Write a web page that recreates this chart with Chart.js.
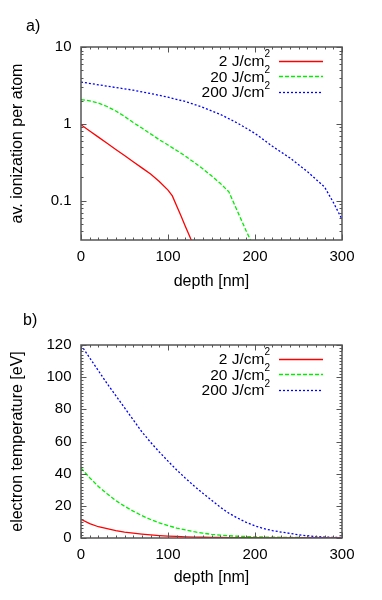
<!DOCTYPE html>
<html><head><meta charset="utf-8">
<script src="https://cdn.jsdelivr.net/npm/chart.js@4.4.1/dist/chart.umd.min.js"></script>
<style>
html,body{margin:0;padding:0;background:#fff;}
#wrap{position:relative;width:382px;height:600px;overflow:hidden;}
.box{position:absolute;left:0;width:382px;height:300px;}
</style></head><body>
<div id="wrap">
<div class="box" style="top:0px"><canvas id="c1" width="382" height="300"></canvas></div>
<div class="box" style="top:298px"><canvas id="c2" width="382" height="300"></canvas></div>
</div>
<script>
// ---------- data ----------
const seriesLabels = ['2 J/cm²', '20 J/cm²', '200 J/cm²'];
const seriesColors = ['#ff0000', '#00ee00', '#0000ff'];

// a) average ionization per atom vs depth [nm]
const ionDepthRed   = [0,10,20,30,40,50,60,70,80,90,100,105,110,115,120,125,130];
const ionRed        = [0.97,0.807,0.671,0.558,0.464,0.386,0.321,0.267,0.222,0.177,0.137,0.115,0.085,0.063,0.046,0.034,0.025];
const ionDepthGreen = [0,10,20,30,40,50,60,70,80,90,100,110,120,130,140,150,160,170,180,190,200];
const ionGreen      = [2.07,1.99,1.86,1.68,1.47,1.25,1.04,0.88,0.74,0.62,0.53,0.45,0.38,0.315,0.26,0.21,0.168,0.13,0.072,0.040,0.023];
const ionDepthBlue  = [0,20,40,60,80,100,120,140,160,180,200,220,240,260,280,290,300];
const ionBlue       = [3.5,3.22,2.97,2.74,2.48,2.22,1.95,1.64,1.33,1.02,0.75,0.51,0.36,0.24,0.15,0.095,0.057];

// b) electron temperature [eV] vs depth [nm]
const tempDepth = [0,10,20,30,40,50,60,70,80,90,100,110,120,130,140,150,160,170,180,190,200,210,220,230,240,250,260,270,280,290,300];
const tempRed   = [11.6,8.9,7.0,5.8,4.6,3.7,3.0,2.4,1.9,1.5,1.2,0.95,0.75,0.6,0.48,0.38,0.3,0.25,0.2,0.17,0.15,0.13,0.11,0.1,0.09,0.08,0.07,0.065,0.06,0.055,0.05];
const tempGreen = [43.5,37.5,32,27.5,23.3,19.8,16.7,13.9,11.5,9.4,7.7,6.2,5.0,3.9,3.0,2.3,1.8,1.4,1.1,0.9,0.7,0.6,0.5,0.42,0.35,0.3,0.25,0.21,0.18,0.15,0.12];
const tempBlue  = [120,112,104,96,88.5,81,73.5,66,59.5,53.5,47.8,42.3,37.2,32.4,27.8,23.5,19.2,15.4,12.4,9.7,7.5,5.9,4.6,3.7,2.9,2.0,1.4,0.9,0.6,0.4,0.3];

// tick labels
const xTickValues = [0,100,200,300];
const xTickLabels = ['0','100','200','300'];
const ionTickValues = [0.1,1,10];
const ionTickLabels = ['0.1','1','10'];
const tempTickValues = [0,20,40,60,80,100,120];
const tempTickLabels = ['0','20','40','60','80','100','120'];

// ---------- rendering ----------
const FONT = '"Liberation Sans", Arial, Helvetica, sans-serif';
Chart.defaults.font.family = FONT;
Chart.defaults.color = '#000';

const dashes = [[], [4,2], [2,2]];

function pts(xs, ys){ return xs.map((x,i)=>({x:x, y:ys[i]})); }

const framePlugin = {
  id: 'frame',
  afterDatasetsDraw(chart, args, o) {
    const {ctx, chartArea: a} = chart;
    const xs = chart.scales.x, ys = chart.scales.y;
    ctx.save();
    ctx.strokeStyle = '#555';
    ctx.lineWidth = 1;
    ctx.beginPath();
    const vx = (v, len) => { const p = Math.round(xs.getPixelForValue(v)) + 0.5;
      ctx.moveTo(p, a.bottom); ctx.lineTo(p, a.bottom - len);
      ctx.moveTo(p, a.top); ctx.lineTo(p, a.top + len); };
    const vy = (v, len) => { const p = Math.round(ys.getPixelForValue(v)) + 0.5;
      ctx.moveTo(a.left, p); ctx.lineTo(a.left + len, p);
      ctx.moveTo(a.right, p); ctx.lineTo(a.right - len, p); };
    xs.ticks.forEach(t => vx(t.value, 5.5));
    ys.ticks.forEach(t => vy(t.value, 5.5));
    o.xMinor.forEach(v => vx(v, 2.5));
    o.yMinor.forEach(v => vy(v, 2.5));
    ctx.stroke();
    ctx.lineWidth = 1.5;
    ctx.strokeRect(a.left, a.top, a.right - a.left, a.bottom - a.top);
    // panel label
    ctx.fillStyle = '#000';
    ctx.font = '16px ' + FONT;
    ctx.textAlign = 'left';
    ctx.textBaseline = 'alphabetic';
    ctx.fillText(o.panel, o.panelX, o.panelY);
    // legend
    chart.data.datasets.forEach((ds, i) => {
      const y = a.top + 13.5 + i * 15.7;
      const parts = ds.label.split('²');
      ctx.font = '10px ' + FONT;
      const supW = ctx.measureText('2').width;
      const xEnd = a.right - 72;
      ctx.textAlign = 'right';
      ctx.fillText('2', xEnd, y - 3.4);
      ctx.font = '15.5px ' + FONT;
      ctx.fillText(parts[0], xEnd - supW, y + 5.5);
      ctx.beginPath();
      ctx.strokeStyle = ds.borderColor;
      ctx.lineWidth = ds.borderWidth;
      ctx.setLineDash(ds.borderDash || []);
      ctx.moveTo(a.right - 63, Math.round(y) + 0.5);
      ctx.lineTo(a.right - 19, Math.round(y) + 0.5);
      ctx.stroke();
      ctx.setLineDash([]);
    });
    ctx.restore();
  }
};

function makeChart(id, cfg) {
  const datasets = cfg.series.map((s, i) => ({
    label: seriesLabels[i],
    data: pts(s[0], s[1]),
    borderColor: seriesColors[i],
    borderWidth: 1.3,
    borderDash: dashes[i],
    pointRadius: 0,
    tension: 0,
    fill: false,
    clip: 0
  }));
  return new Chart(document.getElementById(id), {
    type: 'line',
    data: { datasets },
    plugins: [framePlugin],
    options: {
      responsive: false,
      animation: false,
      events: [],
      layout: { padding: { top: 47, right: 40, left: 0, bottom: 0 } },
      plugins: {
        legend: { display: false },
        tooltip: { enabled: false },
        frame: { xMinor: cfg.xMinor, yMinor: cfg.yMinor, panel: cfg.panel, panelX: cfg.panelX, panelY: cfg.panelY }
      },
      scales: {
        x: {
          type: 'linear', min: 0, max: 300,
          grid: { display: false, drawTicks: false },
          border: { display: false },
          afterBuildTicks: s => { s.ticks = xTickValues.map(v => ({ value: v })); },
          afterFit: s => { s.height = 60; },
          ticks: { padding: 8, font: { size: 15 }, maxRotation: 0,
                   callback: v => xTickLabels[xTickValues.indexOf(v)] },
          title: { display: true, text: 'depth [nm]', font: { size: 16 }, padding: { top: 0, bottom: cfg.xTitlePad } }
        },
        y: {
          type: cfg.yType, min: cfg.yMin, max: cfg.yMax,
          grid: { display: false, drawTicks: false },
          border: { display: false },
          afterBuildTicks: s => { s.ticks = cfg.yTicks.map(v => ({ value: v })); },
          afterFit: s => { s.width = 81; },
          ticks: { padding: 9.5, font: { size: 15 },
                   callback: v => cfg.yLabels[cfg.yTicks.indexOf(v)] },
          title: { display: true, text: cfg.yTitle, font: { size: 16 }, padding: { top: 8.4, bottom: 0 } }
        }
      }
    }
  });
}

const xMinor = [];
for (let v = 10; v < 300; v += 10) if (v % 100) xMinor.push(v);
const logMinor = [];
[0.01, 0.1, 1].forEach(d => { for (let k = 2; k <= 9; k++) { const v = +(k * d).toPrecision(3); if (v >= 0.0307 && v <= 10) logMinor.push(v); } });
const linMinor = [];
for (let v = 2; v < 120; v += 2) if (v % 20) linMinor.push(v);

makeChart('c1', {
  series: [[ionDepthRed, ionRed], [ionDepthGreen, ionGreen], [ionDepthBlue, ionBlue]],
  yType: 'logarithmic', yMin: 0.0307, yMax: 10,
  yTicks: ionTickValues, yLabels: ionTickLabels,
  yTitle: 'av. ionization per atom',
  xMinor, yMinor: logMinor, panel: 'a)', panelX: 26, panelY: 30.5, xTitlePad: 8.4
});
makeChart('c2', {
  series: [[tempDepth, tempRed], [tempDepth, tempGreen], [tempDepth, tempBlue]],
  yType: 'linear', yMin: 0, yMax: 120,
  yTicks: tempTickValues, yLabels: tempTickLabels,
  yTitle: 'electron temperature [eV]',
  xMinor, yMinor: linMinor, panel: 'b)', panelX: 23, panelY: 27, xTitlePad: 10.4
});
</script>
</body></html>
